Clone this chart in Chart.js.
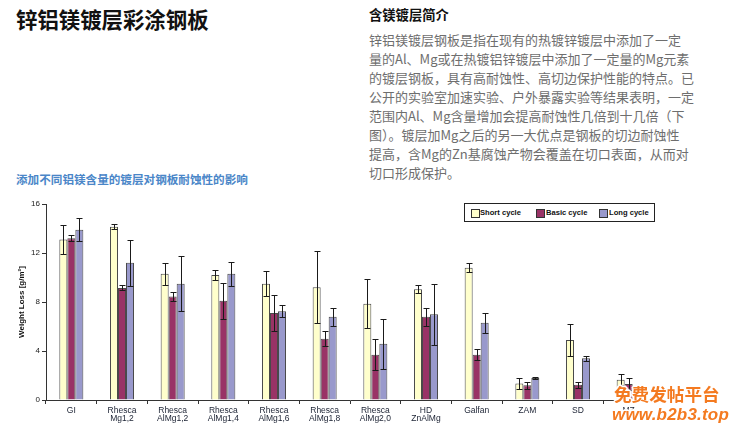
<!DOCTYPE html>
<html>
<head>
<meta charset="utf-8">
<script src="https://cdn.jsdelivr.net/npm/chart.js@4.4.1/dist/chart.umd.min.js"></script>
<style>
  html, body { margin:0; padding:0; background:#fff; }
  body { width:739px; height:436px; position:relative; overflow:hidden; font-family:"Noto Sans CJK SC","Noto Sans",sans-serif; }
  .abs { position:absolute; white-space:nowrap; }
  #title { left:16px; top:4px; font-size:21.4px; font-weight:bold; color:#111; line-height:30px; }
  #head { left:369px; top:5px; font-size:13.3px; font-weight:bold; color:#111; line-height:19px; }
  .para { left:369px; font-size:13px; color:#6e6e6e; line-height:19px; }
  #sub { left:16px; top:171px; font-size:11.6px; font-weight:bold; color:#4a86c8; line-height:17px; }
  #chartWrap { position:absolute; left:0; top:190px; width:739px; height:246px; }
  #legend { position:absolute; left:464px; top:203px; width:189px; height:17px; border:1px solid #222; background:#fff; }
  .lg-sq { position:absolute; top:5px; width:7px; height:7px; border:1px solid #333; }
  .lg-tx { position:absolute; top:3px; font-family:"Liberation Sans",sans-serif; font-weight:bold; font-size:7.6px; line-height:11px; color:#111; }
  .wm { font-weight:bold; color:#f47a20;
        text-shadow: 1px 0 0 #fff, -1px 0 0 #fff, 0 1px 0 #fff, 0 -1px 0 #fff, 1px 1px 0 #fff, -1px -1px 0 #fff, 1px -1px 0 #fff, -1px 1px 0 #fff, 2px 0 1px #fff, -2px 0 1px #fff, 0 2px 1px #fff, 0 -2px 1px #fff; }
  #wm1 { left:614px; top:382px; font-size:17.6px; line-height:24px; }
  #wm2 { left:612px; top:404px; font-size:17px; line-height:22px; font-style:italic; font-family:"Liberation Sans","DejaVu Sans",sans-serif; letter-spacing:0.2px; }
</style>
</head>
<body>
<div id="title" class="abs">锌铝镁镀层彩涂钢板</div>
<div id="head" class="abs">含镁镀层简介</div>
<div class="abs para" style="top:30px">锌铝镁镀层钢板是指在现有的热镀锌镀层中添加了一定</div>
<div class="abs para" style="top:49px">量的Al、Mg或在热镀铝锌镀层中添加了一定量的Mg元素</div>
<div class="abs para" style="top:68px">的镀层钢板，具有高耐蚀性、高切边保护性能的特点。已</div>
<div class="abs para" style="top:87px">公开的实验室加速实验、户外暴露实验等结果表明，一定</div>
<div class="abs para" style="top:106px">范围内Al、Mg含量增加会提高耐蚀性几倍到十几倍（下</div>
<div class="abs para" style="top:125px">图）。镀层加Mg之后的另一大优点是钢板的切边耐蚀性</div>
<div class="abs para" style="top:144px">提高，含Mg的Zn基腐蚀产物会覆盖在切口表面，从而对</div>
<div class="abs para" style="top:163px">切口形成保护。</div>
<div id="sub" class="abs">添加不同铝镁含量的镀层对钢板耐蚀性的影响</div>

<div id="chartWrap"><canvas id="c" width="739" height="246"></canvas></div>

<div id="legend">
  <div class="lg-sq" style="left:6px;background:#ffffcc"></div>
  <div class="lg-tx" style="left:15px">Short cycle</div>
  <div class="lg-sq" style="left:71px;background:#993366"></div>
  <div class="lg-tx" style="left:81px">Basic cycle</div>
  <div class="lg-sq" style="left:134px;background:#9999cc"></div>
  <div class="lg-tx" style="left:144px">Long cycle</div>
</div>

<div id="wm1" class="abs wm">免费发帖平台</div>
<div id="wm2" class="abs wm">www.b2b3.top</div>

<script>
// ---- data ----
const categories = [
  ['GI'], ['Rhesca','Mg1,2'], ['Rhesca','AlMg1,2'], ['Rhesca','AlMg1,4'],
  ['Rhesca','AlMg1,6'], ['Rhesca','AlMg1,8'], ['Rhesca','AlMg2,0'],
  ['HD','ZnAlMg'], ['Galfan'], ['ZAM'], ['SD'], ['MZ']
];
const seriesNames = ['Short cycle', 'Basic cycle', 'Long cycle'];
const shortCycle = [13.1, 14.15, 10.3, 10.2, 9.5, 9.2, 7.85, 9.05, 10.8, 1.35, 4.9, 1.65];
const shortErr   = [1.15, 0.2, 0.9, 0.4, 1.05, 2.95, 2.0, 0.35, 0.38, 0.45, 1.28, 0.45];
const basicCycle = [13.2, 9.15, 8.45, 8.1, 7.1, 5.0, 3.7, 6.8, 3.7, 1.2, 1.25, 1.3];
const basicErr   = [0.25, 0.2, 0.35, 1.45, 1.5, 0.6, 1.25, 0.75, 0.45, 0.3, 0.23, 0.5];
const longCycle  = [13.9, 11.2, 9.5, 10.3, 7.25, 6.8, 4.6, 7.0, 6.3, 1.8, 3.4, 0.9];
const longErr    = [0.95, 1.9, 2.25, 1.0, 0.5, 0.75, 2.05, 2.5, 0.8, 0.08, 0.22, 0.2];
const yTicks = [0, 4, 8, 12, 16];

const errorBars = {
  id: 'errorBars',
  afterDatasetsDraw(chart) {
    const ctx = chart.ctx;
    const ys = chart.scales.y;
    ctx.save();
    ctx.strokeStyle = '#1a1a1a';
    ctx.lineWidth = 1;
    chart.data.datasets.forEach((ds, i) => {
      const meta = chart.getDatasetMeta(i);
      meta.data.forEach((bar, j) => {
        const v = ds.data[j], e = ds.errors[j];
        const x = Math.round(bar.x) + 0.5;
        const yt = Math.round(ys.getPixelForValue(v + e)) + 0.5;
        const yb = Math.round(ys.getPixelForValue(v - e)) + 0.5;
        ctx.beginPath();
        ctx.moveTo(x, yt); ctx.lineTo(x, yb);
        ctx.moveTo(x - 3, yt); ctx.lineTo(x + 3, yt);
        ctx.moveTo(x - 3, yb); ctx.lineTo(x + 3, yb);
        ctx.stroke();
      });
    });
    ctx.restore();
  }
};

const mk = (label, data, errors, color) => ({
  label, data, errors,
  backgroundColor: color,
  borderColor: '#4a4a4a',
  borderWidth: 1,
  categoryPercentage: 0.474,
  barPercentage: 1.0
});

new Chart(document.getElementById('c'), {
  type: 'bar',
  data: {
    labels: categories,
    datasets: [
      mk(seriesNames[0], shortCycle, shortErr, '#ffffcc'),
      mk(seriesNames[1], basicCycle, basicErr, '#993366'),
      mk(seriesNames[2], longCycle, longErr, '#9999cc')
    ]
  },
  options: {
    responsive: false,
    animation: false,
    devicePixelRatio: 1,
    layout: { padding: { left: 0, right: 85, top: 14, bottom: 0 } },
    plugins: { legend: { display: false }, tooltip: { enabled: false } },
    scales: {
      x: {
        offset: true,
        grid: { drawOnChartArea: false, drawTicks: true, tickLength: 4, offset: true, color: '#333' },
        border: { color: '#333', width: 1 },
        ticks: {
          autoSkip: false, maxRotation: 0, minRotation: 0, padding: 2,
          color: '#1b2233',
          font: { family: '"Liberation Sans Narrow","Liberation Sans",sans-serif', size: 8.5, lineHeight: 1.0 }
        },
        afterFit(s) { s.height = 36; }
      },
      y: {
        min: 0, max: 16,
        afterBuildTicks(s) { s.ticks = yTicks.map(v => ({ value: v })); },
        grid: { drawOnChartArea: false, drawTicks: true, tickLength: 4, color: '#333' },
        border: { color: '#333', width: 1 },
        ticks: {
          padding: 2, color: '#222',
          font: { family: '"Liberation Sans Narrow","Liberation Sans",sans-serif', size: 8 }
        },
        title: {
          display: true, text: 'Weight Loss [g/m²]', color: '#111',
          padding: { top: 17, bottom: 0 },
          font: { family: '"Liberation Sans Narrow","Liberation Sans",sans-serif', size: 8, weight: 'bold' }
        },
        afterFit(s) { s.width = 46; }
      }
    }
  },
  plugins: [errorBars]
});
</script>
</body>
</html>
